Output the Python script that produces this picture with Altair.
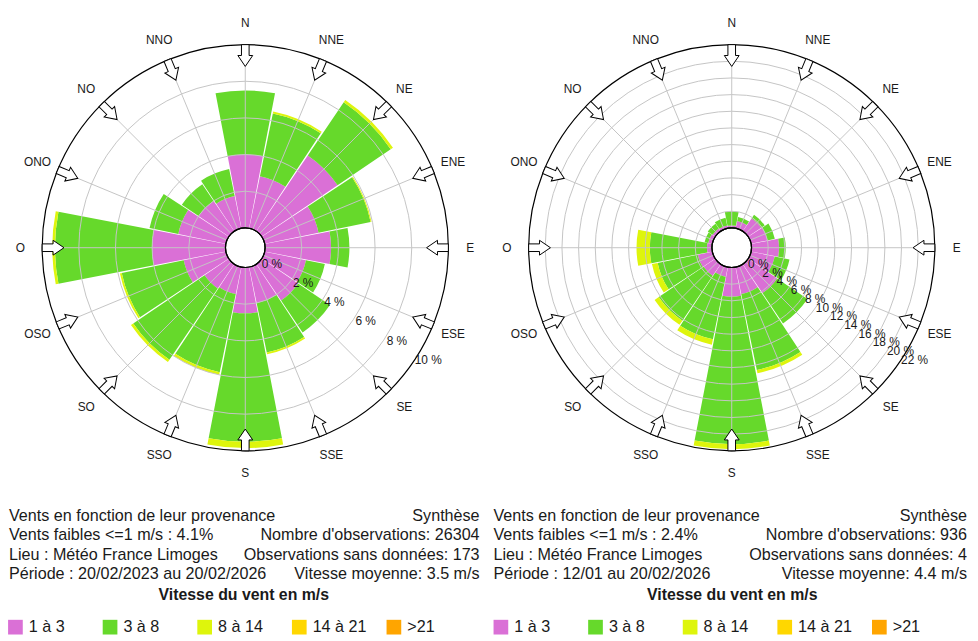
import math
import altair as alt
import pandas as pd

# ---------------- data ----------------
directions = ["N", "NNE", "NE", "ENE", "E", "ESE", "SE", "SSE",
              "S", "SSO", "SO", "OSO", "O", "ONO", "NO", "NNO"]
bearings = [0, 22.5, 45, 67.5, 90, 112.5, 135, 157.5,
            180, 202.5, 225, 247.5, 270, 292.5, 315, 337.5]
classes = ["1 à 3", "3 à 8", "8 à 14", "14 à 21", ">21"]
class_colors = ["#DA70D6", "#66D92B", "#DEF50C", "#FFD700", "#FFA500"]

# Rose 1 : 20/02/2023 - 20/02/2026 (% per direction and speed class)
r1_1a3 = [4.0, 2.9, 5.0, 3.0, 3.6, 2.3, 2.4, 2.0, 2.5, 1.5, 1.6, 2.35, 4.0, 2.65, 2.0, 1.8]
r1_3a8 = [3.5, 3.5, 3.5, 2.9, 1.0, 1.05, 2.1, 2.75, 7.0, 4.35, 4.7, 3.45, 5.3, 1.6, 1.1, 1.5]
r1_8a14 = [0.0, 0.1, 0.15, 0.05, 0.0, 0.0, 0.0, 0.1, 0.35, 0.15, 0.15, 0.1, 0.15, 0.0, 0.0, 0.0]
r1_14a21 = [0.0, 0.0, 0.0, 0.0, 0.0, 0.0, 0.0, 0.0, 0.0, 0.0, 0.0, 0.0, 0.0, 0.0, 0.0, 0.0]
r1_sup21 = [0.0, 0.0, 0.0, 0.0, 0.0, 0.0, 0.0, 0.0, 0.0, 0.0, 0.0, 0.0, 0.0, 0.0, 0.0, 0.0]
r1_ticks = [0, 2, 4, 6, 8, 10]
r1_info_left = ["Vents en fonction de leur provenance", "Vents faibles <=1 m/s : 4.1%",
                "Lieu : Météo France Limoges", "Période : 20/02/2023 au 20/02/2026"]
r1_info_right = ["Synthèse", "Nombre d'observations: 26304",
                 "Observations sans données: 173", "Vitesse moyenne: 3.5 m/s"]

# Rose 2 : 12/01 - 20/02/2026
r2_1a3 = [0.3, 0.9, 1.9, 2.0, 3.3, 2.9, 4.2, 3.3, 3.5, 1.2, 1.7, 1.8, 0.6, 0.5, 0.4, 0.35]
r2_3a8 = [1.7, 0.5, 0.5, 0.9, 0.8, 1.8, 4.4, 9.3, 17.7, 7.65, 6.5, 4.9, 6.85, 0.45, 0.7, 0.95]
r2_8a14 = [0.0, 0.0, 0.0, 0.0, 0.0, 0.0, 0.0, 0.4, 0.6, 0.65, 0.6, 0.7, 1.6, 0.0, 0.0, 0.0]
r2_14a21 = [0.0, 0.0, 0.0, 0.0, 0.0, 0.0, 0.0, 0.0, 0.0, 0.0, 0.0, 0.0, 0.0, 0.0, 0.0, 0.0]
r2_sup21 = [0.0, 0.0, 0.0, 0.0, 0.0, 0.0, 0.0, 0.0, 0.0, 0.0, 0.0, 0.0, 0.0, 0.0, 0.0, 0.0]
r2_ticks = [0, 2, 4, 6, 8, 10, 12, 14, 16, 18, 20, 22]
r2_info_left = ["Vents en fonction de leur provenance", "Vents faibles <=1 m/s : 2.4%",
                "Lieu : Météo France Limoges", "Période : 12/01 au 20/02/2026"]
r2_info_right = ["Synthèse", "Nombre d'observations: 936",
                 "Observations sans données: 4", "Vitesse moyenne: 4.4 m/s"]

legend_title = "Vitesse du vent en m/s"

# ---------------- layout / style ----------------
FONT = "Liberation Sans"
INFO_SIZE = 16.3
H = 632
TOP = 8
CY_PAGE = 247
R_IN, R_OUT = 20, 205
HALF = 10.9
GRID = "#c4c4c4"
TXT = "#1a1a1a"
ARROW = "M -0.35 -1 L 0.35 -1 L 0.35 0 L 0.68 0 L 0 1 L -0.68 0 L -0.35 0 Z"


def polar(r, b):
    a = math.radians(b)
    return r * math.sin(a), -r * math.cos(a)


def make_panel(series, ticks, info_left, info_right, left_px, width, cx_page,
               text_left, text_right, title_cx, legend_x0):
    pmax = ticks[-1]
    k = (R_OUT - R_IN) / pmax

    def rpx(p):
        return R_IN + p * k

    xs = alt.Scale(domain=[left_px - cx_page, left_px + width - cx_page],
                   range=[0, width], zero=False, nice=False)
    ys = alt.Scale(domain=[TOP - CY_PAGE, TOP + H - CY_PAGE],
                   range=[0, H], zero=False, nice=False)
    ts = alt.Scale(domain=[0, 360], range=[0, 2 * math.pi], zero=False, nice=False)
    rs = alt.Scale(type="linear", domain=[0, pmax], range=[R_IN, R_OUT],
                   zero=False, nice=False)

    cx = alt.X(datum=0, type="quantitative", scale=xs, axis=None)
    cy = alt.Y(datum=0, type="quantitative", scale=ys, axis=None)

    # stacked bars
    rows = []
    for i, d in enumerate(directions):
        b = bearings[i]
        cum = 0.0
        for cls, s in zip(classes, series):
            v = s[i]
            if v > 0:
                rows.append(dict(dir=d, cls=cls, r0=cum, r1=cum + v,
                                 t0=b - HALF, t1=b + HALF))
            cum += v
    bars_df = pd.DataFrame(rows)
    bars = alt.Chart(bars_df).mark_arc().encode(
        x=cx, y=cy,
        theta=alt.Theta("t0:Q", scale=ts, stack=None),
        theta2="t1:Q",
        radius=alt.Radius("r1:Q", scale=rs, stack=None),
        radius2="r0:Q",
        color=alt.Color("cls:N", scale=alt.Scale(domain=classes, range=class_colors),
                        legend=None),
    )

    # grid circles
    grid_df = pd.DataFrame({"p": ticks[1:-1]})
    grid = alt.Chart(grid_df).mark_arc(fill="transparent", stroke=GRID, strokeWidth=1).encode(
        x=cx, y=cy,
        theta=alt.Theta(datum=0, type="quantitative", scale=ts, stack=None),
        theta2=alt.Theta2(datum=360),
        radius=alt.Radius("p:Q", scale=rs, stack=None),
    )

    # radial lines
    rad_rows = []
    for b in bearings:
        x1, y1 = polar(R_IN, b)
        x2, y2 = polar(R_OUT, b)
        rad_rows.append(dict(x1=x1, y1=y1, x2=x2, y2=y2))
    radial = alt.Chart(pd.DataFrame(rad_rows)).mark_rule(color=GRID, strokeWidth=1).encode(
        x=alt.X("x1:Q", scale=xs, axis=None), y=alt.Y("y1:Q", scale=ys, axis=None),
        x2="x2:Q", y2="y2:Q",
    )

    # hole & outer circle
    ring_df = pd.DataFrame({"p": [0, pmax]})
    rings = alt.Chart(ring_df).mark_arc(fill="transparent", stroke="black", strokeWidth=1.2).encode(
        x=cx, y=cy,
        theta=alt.Theta(datum=0, type="quantitative", scale=ts, stack=None),
        theta2=alt.Theta2(datum=360),
        radius=alt.Radius("p:Q", scale=rs, stack=None),
    )

    # arrows
    arr_rows = []
    for b in bearings:
        x, y = polar(194, b)
        arr_rows.append(dict(x=x, y=y, b=b))
    arrows = alt.Chart(pd.DataFrame(arr_rows)).mark_point(
        shape=ARROW, size=484, filled=True, fill="white", stroke="black",
        strokeWidth=1, opacity=1,
    ).encode(
        x=alt.X("x:Q", scale=xs, axis=None), y=alt.Y("y:Q", scale=ys, axis=None),
        angle=alt.Angle("b:Q", scale=alt.Scale(domain=[0, 360], range=[0, 360])),
    )

    # compass labels
    lab_rows = []
    for d, b in zip(directions, bearings):
        x, y = polar(227, b)
        lab_rows.append(dict(x=x, y=y, t=d))
    compass = alt.Chart(pd.DataFrame(lab_rows)).mark_text(
        font=FONT, fontSize=12, color=TXT, align="center", baseline="middle"
    ).encode(x=alt.X("x:Q", scale=xs, axis=None), y=alt.Y("y:Q", scale=ys, axis=None), text="t:N")

    # percent labels
    pct_rows = []
    for p in ticks:
        x, y = polar(rpx(p) + 11.5, 121.5)
        pct_rows.append(dict(x=x, y=y, t=f"{p} %"))
    pct = alt.Chart(pd.DataFrame(pct_rows)).mark_text(
        font=FONT, fontSize=12, color=TXT, align="center", baseline="middle"
    ).encode(x=alt.X("x:Q", scale=xs, axis=None), y=alt.Y("y:Q", scale=ys, axis=None), text="t:N")

    # info text
    line_y = [518, 537.5, 557, 576.5]
    il = pd.DataFrame({"x": [text_left - cx_page] * 4,
                       "y": [v - CY_PAGE for v in line_y], "t": info_left})
    ir = pd.DataFrame({"x": [text_right - cx_page] * 4,
                       "y": [v - CY_PAGE for v in line_y], "t": info_right})
    info_l = alt.Chart(il).mark_text(font=FONT, fontSize=INFO_SIZE, color=TXT, align="left",
                                     baseline="middle").encode(
        x=alt.X("x:Q", scale=xs, axis=None), y=alt.Y("y:Q", scale=ys, axis=None), text="t:N")
    info_r = alt.Chart(ir).mark_text(font=FONT, fontSize=INFO_SIZE, color=TXT, align="right",
                                     baseline="middle").encode(
        x=alt.X("x:Q", scale=xs, axis=None), y=alt.Y("y:Q", scale=ys, axis=None), text="t:N")
    tdf = pd.DataFrame({"x": [title_cx - cx_page], "y": [598 - CY_PAGE], "t": [legend_title]})
    title = alt.Chart(tdf).mark_text(font=FONT, fontSize=16, fontWeight="bold", color=TXT,
                                     align="center", baseline="middle").encode(
        x=alt.X("x:Q", scale=xs, axis=None), y=alt.Y("y:Q", scale=ys, axis=None), text="t:N")

    # legend
    leg_rows = []
    for i, cls in enumerate(classes):
        x0 = legend_x0 + i * 95.5
        leg_rows.append(dict(cls=cls, sx=x0 + 7.5 - cx_page, lx=x0 + 21 - cx_page,
                             y=630 - CY_PAGE))
    leg_df = pd.DataFrame(leg_rows)
    leg_sq = alt.Chart(leg_df).mark_square(size=220, opacity=1, filled=True).encode(
        x=alt.X("sx:Q", scale=xs, axis=None), y=alt.Y("y:Q", scale=ys, axis=None),
        color=alt.Color("cls:N", scale=alt.Scale(domain=classes, range=class_colors),
                        legend=None),
    )
    leg_tx = alt.Chart(leg_df).mark_text(font=FONT, fontSize=INFO_SIZE, color=TXT, align="left",
                                         baseline="middle").encode(
        x=alt.X("lx:Q", scale=xs, axis=None), y=alt.Y("y:Q", scale=ys, axis=None), text="cls:N")

    return alt.layer(bars, grid, radial, rings, arrows, compass, pct,
                     info_l, info_r, title, leg_sq, leg_tx).properties(width=width, height=H)


p1 = make_panel([r1_1a3, r1_3a8, r1_8a14, r1_14a21, r1_sup21], r1_ticks,
                r1_info_left, r1_info_right,
                left_px=8, width=490, cx_page=246.5,
                text_left=8, text_right=483, title_cx=245, legend_x0=7)
p2 = make_panel([r2_1a3, r2_3a8, r2_8a14, r2_14a21, r2_sup21], r2_ticks,
                r2_info_left, r2_info_right,
                left_px=498, width=480, cx_page=737.5,
                text_left=497, text_right=975, title_cx=738, legend_x0=497)

chart = alt.hconcat(p1, p2, spacing=0).properties(
    padding=0, bounds="flush"
).configure_view(strokeWidth=0)

chart.save("out.html", embed_options={"renderer": "svg", "actions": False})
